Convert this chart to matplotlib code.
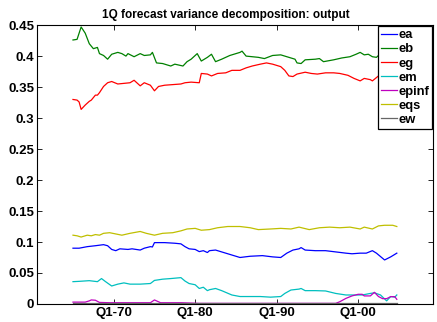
import numpy as np
import matplotlib
matplotlib.use('Agg')
import matplotlib.pyplot as plt

# shock contributions (year, share)
ea_t = [1965.0, 1965.75, 1966.75, 1967.75, 1968.75, 1969.25, 1969.75, 1970.25, 1970.75, 1971.75,
        1972.25, 1973.25, 1973.75, 1974.5, 1974.75, 1975.0, 1976.25, 1977.5, 1978.25, 1978.75,
        1979.25, 1980.0, 1980.5, 1981.0, 1981.5, 1981.75, 1982.5, 1983.25, 1984.25, 1985.5,
        1986.75, 1988.25, 1989.5, 1990.5, 1991.25, 1992.0, 1992.75, 1993.0, 1993.5, 1994.75,
        1996.0, 1997.25, 1998.5, 1999.25, 2000.25, 2001.0, 2001.75, 2002.25, 2003.25, 2004.0,
        2004.5, 2004.75]
ea = [0.090, 0.090, 0.0925, 0.094, 0.0957, 0.094, 0.088, 0.086, 0.089, 0.088,
      0.089, 0.087, 0.090, 0.0925, 0.092, 0.099, 0.099, 0.098, 0.097, 0.0925,
      0.089, 0.088, 0.0845, 0.086, 0.083, 0.086, 0.087, 0.084, 0.080, 0.075,
      0.077, 0.078, 0.076, 0.075, 0.082, 0.087, 0.089, 0.091, 0.087, 0.086,
      0.086, 0.084, 0.082, 0.081, 0.082, 0.082, 0.086, 0.082, 0.071, 0.076,
      0.080, 0.082]

eb_t = [1965.0, 1965.5, 1965.75, 1966.0, 1966.5, 1967.0, 1967.5, 1968.0, 1968.25, 1968.75,
        1969.25, 1969.75, 1970.5, 1971.0, 1971.5, 1971.75, 1972.5, 1973.25, 1973.75, 1974.5,
        1974.75, 1975.25, 1976.0, 1977.0, 1977.5, 1978.5, 1979.0, 1979.5, 1980.25, 1980.75,
        1981.5, 1982.0, 1982.5, 1983.25, 1984.25, 1985.5, 1985.75, 1986.25, 1987.0, 1987.75,
        1988.5, 1989.5, 1990.5, 1991.25, 1992.25, 1992.5, 1993.0, 1993.5, 1994.75, 1995.25,
        1995.75, 1997.0, 1998.0, 1999.0, 1999.75, 2000.25, 2000.75, 2001.25, 2001.75, 2002.25,
        2002.75, 2003.5, 2004.75]
eb = [0.426, 0.427, 0.437, 0.447, 0.437, 0.420, 0.412, 0.414, 0.404, 0.401,
      0.395, 0.403, 0.406, 0.404, 0.400, 0.404, 0.399, 0.404, 0.401, 0.402,
      0.406, 0.389, 0.388, 0.384, 0.387, 0.384, 0.391, 0.395, 0.404, 0.392,
      0.398, 0.403, 0.391, 0.395, 0.401, 0.406, 0.408, 0.400, 0.399, 0.398,
      0.396, 0.401, 0.402, 0.399, 0.395, 0.389, 0.388, 0.394, 0.395, 0.396,
      0.391, 0.394, 0.397, 0.399, 0.403, 0.406, 0.402, 0.403, 0.399, 0.398,
      0.404, 0.401, 0.402]

eg_t = [1965.0, 1965.5, 1965.75, 1966.0, 1966.5, 1967.0, 1967.25, 1967.75, 1968.0, 1968.25,
        1968.75, 1969.25, 1969.75, 1970.5, 1971.25, 1972.0, 1972.5, 1973.25, 1973.75, 1974.5,
        1975.0, 1975.5, 1976.25, 1977.25, 1978.25, 1978.75, 1979.5, 1980.5, 1980.75, 1981.5,
        1982.0, 1982.75, 1983.75, 1984.5, 1985.5, 1986.25, 1987.0, 1988.0, 1988.75, 1989.5,
        1990.5, 1991.0, 1991.5, 1992.0, 1992.5, 1993.5, 1994.25, 1995.0, 1996.0, 1997.0,
        1997.75, 1998.75, 1999.5, 2000.25, 2000.75, 2001.5, 2001.75, 2002.5, 2002.75, 2003.5,
        2004.75]
eg = [0.330, 0.329, 0.326, 0.314, 0.321, 0.327, 0.329, 0.337, 0.337, 0.341,
      0.351, 0.357, 0.359, 0.355, 0.356, 0.357, 0.361, 0.352, 0.357, 0.353,
      0.344, 0.351, 0.353, 0.354, 0.355, 0.357, 0.358, 0.357, 0.372, 0.371,
      0.368, 0.372, 0.373, 0.377, 0.377, 0.381, 0.384, 0.387, 0.389, 0.387,
      0.383, 0.377, 0.368, 0.367, 0.371, 0.374, 0.372, 0.371, 0.373, 0.373,
      0.372, 0.369, 0.364, 0.360, 0.364, 0.362, 0.360, 0.368, 0.372, 0.372,
      0.370]

em_t = [1965.0, 1965.75, 1967.0, 1968.0, 1968.5, 1969.0, 1969.75, 1970.5, 1971.25, 1972.0,
        1973.25, 1974.5, 1975.0, 1976.0, 1977.0, 1978.25, 1978.75, 1979.25, 1980.0, 1980.5,
        1981.0, 1981.5, 1981.75, 1982.5, 1983.25, 1984.5, 1985.5, 1986.75, 1988.0, 1989.25,
        1990.5, 1991.0, 1991.75, 1992.75, 1993.0, 1993.5, 1994.75, 1996.0, 1997.25, 1998.5,
        1999.5, 2000.5, 2001.5, 2002.0, 2002.75, 2003.5, 2004.0, 2004.5, 2004.75]
em = [0.036, 0.0365, 0.0376, 0.036, 0.041, 0.036, 0.029, 0.032, 0.034, 0.032,
      0.032, 0.033, 0.038, 0.040, 0.041, 0.0425, 0.037, 0.033, 0.031, 0.025,
      0.027, 0.0215, 0.023, 0.025, 0.0215, 0.0145, 0.012, 0.012, 0.012, 0.011,
      0.012, 0.017, 0.0225, 0.024, 0.025, 0.0215, 0.0215, 0.021, 0.017, 0.0145,
      0.0145, 0.0145, 0.017, 0.018, 0.0145, 0.005, 0.012, 0.011, 0.0145]

epinf_t = [1965.0, 1966.5, 1967.0, 1967.25, 1967.75, 1968.25, 1969.5, 1972.0, 1974.5, 1975.0,
           1975.75, 1978.25, 1980.5, 1986.75, 1992.75, 1997.25, 1997.75, 1998.5, 1999.25, 2000.0,
           2000.5, 2000.75, 2001.5, 2002.0, 2002.5, 2003.0, 2003.5, 2004.0, 2004.5, 2004.75]
epinf = [0.003, 0.003, 0.005, 0.0065, 0.006, 0.0025, 0.002, 0.002, 0.002, 0.0065,
         0.002, 0.002, 0.001, 0.001, 0.001, 0.001, 0.0036, 0.009, 0.013, 0.0156,
         0.0156, 0.013, 0.013, 0.0188, 0.012, 0.0086, 0.0086, 0.0118, 0.0118, 0.0075]

eqs_t = [1965.0, 1965.5, 1966.0, 1966.75, 1967.25, 1967.75, 1968.25, 1968.75, 1969.5, 1970.25,
         1971.0, 1972.0, 1973.25, 1974.0, 1975.0, 1976.0, 1977.25, 1978.25, 1979.0, 1980.0,
         1980.75, 1981.75, 1982.75, 1984.0, 1985.5, 1986.75, 1987.75, 1989.25, 1990.5, 1991.75,
         1992.75, 1994.0, 1995.25, 1996.5, 1997.75, 1999.0, 2000.25, 2000.75, 2001.75, 2002.5,
         2003.25, 2004.25, 2004.75]
eqs = [0.111, 0.110, 0.108, 0.111, 0.110, 0.112, 0.111, 0.114, 0.115, 0.113,
       0.111, 0.114, 0.117, 0.114, 0.111, 0.114, 0.115, 0.118, 0.121, 0.122,
       0.119, 0.120, 0.123, 0.125, 0.125, 0.123, 0.120, 0.121, 0.122, 0.121,
       0.124, 0.120, 0.123, 0.124, 0.123, 0.124, 0.121, 0.124, 0.121, 0.126,
       0.127, 0.127, 0.125]

ew_t = [1965.0, 1980.0, 1995.0, 2004.75]
ew = [0.001, 0.001, 0.001, 0.001]

series = [('ea', ea_t, ea, (0, 0, 1)),
          ('eb', eb_t, eb, (0, 0.5, 0)),
          ('eg', eg_t, eg, (1, 0, 0)),
          ('em', em_t, em, (0, 0.75, 0.75)),
          ('epinf', epinf_t, epinf, (0.75, 0, 0.75)),
          ('eqs', eqs_t, eqs, (0.75, 0.75, 0)),
          ('ew', ew_t, ew, (0.4, 0.4, 0.4))]

xticks = [1970, 1980, 1990, 2000]
xticklabels = ['Q1-70', 'Q1-80', 'Q1-90', 'Q1-00']

plt.rcParams['font.family'] = ['Liberation Sans', 'DejaVu Sans']
plt.rcParams['font.weight'] = 'bold'

fig = plt.figure(figsize=(4.37, 3.22), dpi=100)
ax = fig.add_axes([0.085, 0.056, 0.906, 0.866])

for name, t, v, c in series:
    ax.plot(t, v, color=c, lw=0.9, label=name)

ax.set_xlim(1960.6, 2009.2)
ax.set_ylim(0, 0.45)
ax.set_xticks(xticks)
ax.set_xticklabels(xticklabels)
ax.set_yticks(np.arange(0, 0.46, 0.05))
ax.set_yticklabels(['0', '0.05', '0.1', '0.15', '0.2', '0.25', '0.3', '0.35', '0.4', '0.45'])
ax.tick_params(direction='in', length=3.5, width=0.6, labelsize=9.5, top=True, right=True, pad=2)
for s in ax.spines.values():
    s.set_linewidth(0.8)

ax.set_title('1Q forecast variance decomposition: output', fontsize=8.5,
             fontweight='bold', pad=5, x=0.477)

leg = ax.legend(loc='upper right', bbox_to_anchor=(1.0, 1.0), fontsize=9.3,
                fancybox=False, framealpha=1, edgecolor='black', borderaxespad=0.1,
                handlelength=1.2, handletextpad=0.1, labelspacing=0.16, borderpad=0.22)
leg.get_frame().set_linewidth(0.9)

fig.savefig('out.png', dpi=100)
